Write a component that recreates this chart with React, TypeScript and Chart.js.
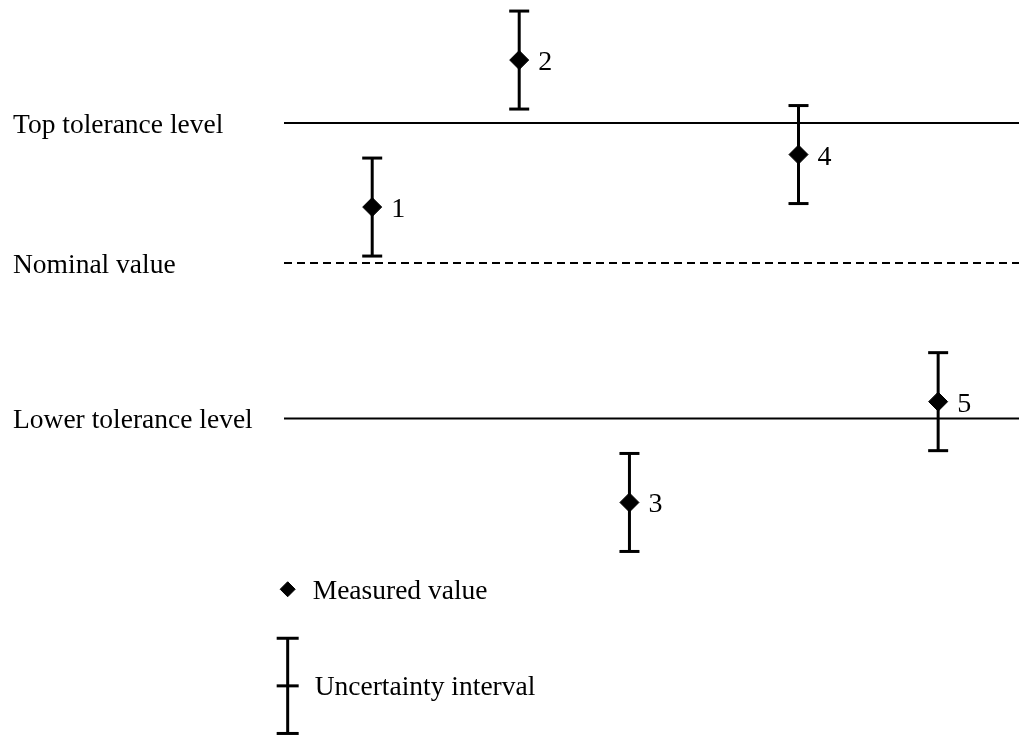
import React, { useEffect, useRef } from "react";
import { Chart, registerables } from "chart.js";

Chart.register(...registerables);

// ---- data ----
const pointIds = ["1", "2", "3", "4", "5"];
const measuredX = [12, 32, 47, 70, 89];
const measuredY = [4, 14.5, -17.1, 7.75, -9.9];
const uncertainty = [3.5, 3.5, 3.5, 3.5, 3.5];

const levelNames = ["Top tolerance level", "Nominal value", "Lower tolerance level"];
const levelValues = [10, 0, -11.1];
const levelDashed = [false, true, false];
const levelStart = 0;
const levelEnd = 100;

const legendLabels = ["Measured value", "Uncertainty interval"];
const legendMarkerY = [-23.3, -30.2];
const legendMarkerX = 0.5;
const legendUncertainty = 3.4;

// ---- layout ----
const W = 1019;
const H = 735;
const X_MIN = -38.64;
const X_MAX = 100;
const Y_MIN = -33.71;
const Y_MAX = 18.79;
const FONT = "27.5px 'Liberation Serif', 'Times New Roman', serif";
const DIGIT_FONT = "28px 'Liberation Serif', 'Times New Roman', serif";

export default function App() {
  const ref = useRef<HTMLCanvasElement | null>(null);

  useEffect(() => {
    if (!ref.current) return;

    const datasets: any[] = [];

    // measured values (diamonds)
    datasets.push({
      label: "measured",
      data: measuredX.map((x, i) => ({ x, y: measuredY[i] })),
      pointStyle: "rectRot",
      pointRadius: 9.5,
      pointBackgroundColor: "#000",
      pointBorderColor: "#000",
      pointBorderWidth: 1,
      showLine: false,
      order: 0,
    });
    // legend diamond
    datasets.push({
      label: "legend-measured",
      data: [{ x: legendMarkerX, y: legendMarkerY[0] }],
      pointStyle: "rectRot",
      pointRadius: 7.5,
      pointBackgroundColor: "#000",
      pointBorderColor: "#000",
      pointBorderWidth: 1,
      showLine: false,
      order: 0,
    });

    // uncertainty intervals
    measuredX.forEach((x, i) => {
      datasets.push({
        label: "unc" + i,
        data: [
          { x, y: measuredY[i] - uncertainty[i] },
          { x, y: measuredY[i] + uncertainty[i] },
        ],
        showLine: true,
        borderColor: "#000",
        borderWidth: 3,
        pointStyle: "line",
        pointRadius: 10,
        pointBorderColor: "#000",
        pointBorderWidth: 3,
        order: 1,
      });
    });
    // legend interval
    datasets.push({
      label: "legend-unc",
      data: [
        { x: legendMarkerX, y: legendMarkerY[1] - legendUncertainty },
        { x: legendMarkerX, y: legendMarkerY[1] },
        { x: legendMarkerX, y: legendMarkerY[1] + legendUncertainty },
      ],
      showLine: true,
      borderColor: "#000",
      borderWidth: 3,
      pointStyle: "line",
      pointRadius: 11,
      pointBorderColor: "#000",
      pointBorderWidth: 3,
      order: 1,
    });

    // tolerance levels
    levelValues.forEach((v, i) => {
      datasets.push({
        label: levelNames[i],
        data: [
          { x: levelStart, y: v },
          { x: levelEnd, y: v },
        ],
        showLine: true,
        borderColor: "#000",
        borderWidth: 2,
        borderDash: levelDashed[i] ? [8, 5] : [],
        pointRadius: 0,
        order: 2,
      });
    });

    const textPlugin = {
      id: "texts",
      afterDatasetsDraw(chart: any) {
        const { ctx, scales } = chart;
        const xs = scales.x;
        const ys = scales.y;
        ctx.save();
        ctx.fillStyle = "#000";
        ctx.font = FONT;
        ctx.textBaseline = "alphabetic";
        ctx.textAlign = "left";
        levelNames.forEach((name, i) => {
          ctx.fillText(name, 13, ys.getPixelForValue(levelValues[i]) + 9.5);
        });
        const lx = xs.getPixelForValue(legendMarkerX);
        ctx.fillText(legendLabels[0], lx + 25, ys.getPixelForValue(legendMarkerY[0]) + 9.5);
        ctx.fillText(legendLabels[1], lx + 27, ys.getPixelForValue(legendMarkerY[1]) + 9.5);
        ctx.font = DIGIT_FONT;
        pointIds.forEach((id, i) => {
          ctx.fillText(
            id,
            xs.getPixelForValue(measuredX[i]) + 19,
            ys.getPixelForValue(measuredY[i]) + 10
          );
        });
        ctx.restore();
      },
    };

    const chart = new Chart(ref.current, {
      type: "scatter",
      data: { datasets },
      options: {
        animation: false,
        responsive: true,
        maintainAspectRatio: false,
        events: [],
        layout: { padding: 0, autoPadding: false },
        plugins: {
          legend: { display: false },
          tooltip: { enabled: false },
        },
        scales: {
          x: { type: "linear", min: X_MIN, max: X_MAX, display: false },
          y: { type: "linear", min: Y_MIN, max: Y_MAX, display: false },
        },
      },
      plugins: [textPlugin],
    });

    return () => chart.destroy();
  }, []);

  return (
    <div
      style={{
        position: "fixed",
        left: 0,
        top: 0,
        width: W,
        height: H,
        background: "#fff",
      }}
    >
      <canvas ref={ref} />
    </div>
  );
}
